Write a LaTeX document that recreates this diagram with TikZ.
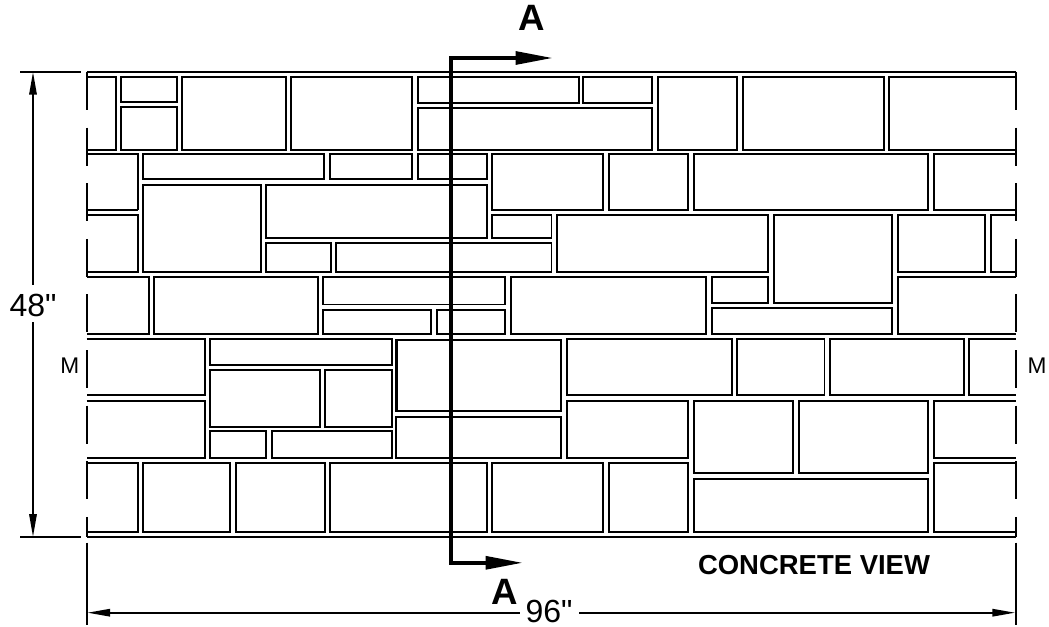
\documentclass[tikz,border=0pt]{standalone}
\usepackage{fontspec}
\setmainfont{Liberation Sans}
\newfontfamily\dimfont{Liberation Sans}
\usetikzlibrary{arrows.meta}
\tikzset{
  stone/.style={line width=1.35pt,line join=miter},
  heavystone/.style={line width=1.8pt,line join=miter},
  course/.style={line width=1.6pt},
  edgedash/.style={line width=1.45pt,dash pattern=on 28.5pt off 13.2pt},
  witness/.style={line width=1.2pt},
  dimline/.style={line width=1.2pt},
  dimstart/.style={dimline,{Triangle[length=17pt,width=5.6pt]}-},
  dimend/.style={dimline,-{Triangle[length=17pt,width=5.6pt]}},
  section/.style={line width=2.9pt,miter limit=10,{Triangle[length=28pt,width=9.5pt]}-{Triangle[length=28pt,width=9.5pt]}},
  dimtext/.style={anchor=base,inner sep=0pt,font=\dimfont\fontsize{24}{24}\selectfont},
  marktext/.style={anchor=base,inner sep=0pt,font=\fontsize{17}{17}\selectfont},
  sectext/.style={anchor=base,inner sep=0pt,font=\bfseries\fontsize{27.5}{27.5}\selectfont},
  titletext/.style={anchor=base,inner sep=0pt,font=\bfseries\fontsize{20.6}{20.6}\selectfont},
}
\newcommand{\stoneC}[4]{\draw[stone] (#1,#2) rectangle (#3,#4);}
\newcommand{\stoneL}[3]{\draw[stone] (86.7,#1) -- (#2,#1) -- (#2,#3) -- (86.7,#3);}
\newcommand{\stoneR}[3]{\draw[stone] (1015.7,#2) -- (#1,#2) -- (#1,#3) -- (1015.7,#3);}
\begin{document}
\begin{tikzpicture}[x=0.75pt,y=-0.75pt]
\useasboundingbox (0,0) rectangle (1049,627);
% course 1
\stoneL{77}{116}{149.7}
\stoneC{120.8}{77}{177.3}{101.8}
\stoneC{120.8}{106.8}{177.3}{149.7}
\stoneC{182}{77}{285.8}{149.7}
\stoneC{290.7}{77}{412.2}{149.7}
\stoneC{418}{77}{578.7}{102.8}
\stoneC{583.3}{77}{652.3}{102.8}
\stoneC{418}{107.8}{652.3}{149.7}
\stoneC{658}{77}{737.3}{149.7}
\stoneC{743}{77}{884}{149.7}
\stoneR{888.8}{77}{149.7}
% course 2
\stoneL{154.3}{138.3}{209.5}
\draw[heavystone] (86.7,209.8) -- (138.3,209.8);
\stoneL{215.3}{138.3}{271.7}
\stoneC{143}{154.3}{323.8}{179.3}
\stoneC{329.7}{154.3}{412.2}{179.3}
\stoneC{418}{154.3}{486.7}{179.3}
\stoneC{143}{184.7}{261}{271.7}
\stoneC{266}{184.7}{486.7}{237.7}
\stoneC{266}{243.3}{331}{271.7}
\stoneC{335.7}{243.3}{551.5}{271.7}
\stoneC{492.3}{154.3}{603}{209.7}
\stoneC{608.7}{154.3}{688.3}{209.7}
\stoneC{694}{154.3}{928.3}{209.7}
\stoneR{933.7}{154.3}{209.7}
\stoneC{492.3}{215.3}{551.5}{237.7}
\stoneC{557.3}{215.3}{768.3}{271.7}
\stoneC{773.7}{215.3}{892.3}{302.7}
\stoneC{897.7}{215.3}{985.3}{271.7}
\stoneR{990.7}{215.3}{271.7}
% course 3
\stoneL{276.9}{149}{334.2}
\stoneC{153.7}{276.9}{318.3}{334.2}
\stoneC{323}{276.9}{505}{304.5}
\stoneC{323}{309.7}{431.3}{334.2}
\stoneC{436.7}{309.7}{505}{334.2}
\stoneC{510.7}{276.9}{706.3}{334.2}
\stoneC{712.3}{276.9}{768.3}{302.7}
\stoneC{712.3}{308.3}{892.3}{334.2}
\stoneR{897.7}{276.9}{334.2}
% course 4
\stoneL{339.3}{204.7}{395.3}
\stoneL{401}{204.7}{457.7}
\stoneC{209.7}{339.3}{391.7}{365}
\stoneC{209.7}{370.3}{320}{426.7}
\stoneC{324.7}{370.3}{391.7}{426.7}
\stoneC{209.7}{431.3}{266}{457.7}
\stoneC{271.7}{431.3}{391.7}{457.7}
\draw[heavystone] (396.3,339.7) rectangle (561,410.7);
\stoneC{396.3}{417.3}{561}{457.7}
\stoneC{567}{339.3}{731.7}{395.3}
\stoneC{737}{339.3}{824.5}{395.3}
\stoneC{830}{339.3}{963.7}{395.3}
\stoneR{969.3}{339.3}{395.3}
\stoneC{567}{401}{688.3}{457.7}
\stoneC{693.8}{401}{793.3}{473}
\stoneC{799.3}{401}{928.3}{473}
\stoneR{933.7}{401}{457.7}
% course 5
\stoneL{463.3}{138.3}{532}
\stoneC{143}{463.3}{230.3}{532}
\stoneC{235.7}{463.3}{324.7}{532}
\stoneC{329.7}{463.3}{486.7}{532}
\stoneC{492.3}{463.3}{603}{532}
\stoneC{608.7}{463.3}{688.3}{532}
\stoneC{693.8}{479}{928.3}{532}
\stoneR{933.7}{463.3}{532}
% panel outline
\coordinate (topL) at (86.7,72);
\coordinate (topR) at (1015.7,72);
\coordinate (botL) at (86.7,536.8);
\coordinate (botR) at (1015.7,536.8);
\draw[course] (topL) -- (topR);
\draw[course] (botL) -- (botR);
\draw[edgedash] (topL) -- (botL);
\draw[edgedash] (topR) -- (botR);
% dimension 48
\coordinate (extTa) at (20.3,72);
\coordinate (extTb) at (81,72);
\coordinate (extBa) at (20.3,536.8);
\coordinate (extBb) at (81,536.8);
\coordinate (dimTop) at (33,72);
\coordinate (dimBot) at (33,536.8);
\coordinate (h48a) at (33,285);
\coordinate (h48b) at (33,322);
\draw[course] (extTa) -- (extTb);
\draw[course] (extBa) -- (extBb);
\node[dimtext] (h48) at (33,316.5) {48"};
\draw[dimstart] (dimTop) -- (h48a);
\draw[dimend] (h48b) -- (dimBot);
% dimension 96
\coordinate (extLa) at (86.7,542.7);
\coordinate (extLb) at (86.7,625);
\coordinate (extRa) at (1015.7,542.7);
\coordinate (extRb) at (1015.7,625);
\coordinate (dimL) at (87.5,612.7);
\coordinate (dimR) at (1015,612.7);
\coordinate (w96a) at (520,612.7);
\coordinate (w96b) at (579,612.7);
\draw[witness] (extLa) -- (extLb);
\draw[witness] (extRa) -- (extRb);
\node[dimtext] (w96) at (549,622.7) {96"};
\draw[dimstart] (dimL) -- (w96a);
\draw[dimend] (w96b) -- (dimR);
% section line
\coordinate (secTop) at (553,58);
\coordinate (secTopC) at (451,58);
\coordinate (secBotC) at (451,562.8);
\coordinate (secBot) at (523,562.8);
\draw[section] (secTop) -- (secTopC) -- (secBotC) -- (secBot);
\node[sectext] (aTop) at (531.7,30.7) {A};
\node[sectext] (aBot) at (505,604) {A};
% marks and title
\node[marktext] (mL) at (69.7,373.3) {M};
\node[marktext] (mR) at (1037,373.3) {M};
\node[titletext] (title) at (814,574.7) {CONCRETE VIEW};
\end{tikzpicture}
\end{document}
